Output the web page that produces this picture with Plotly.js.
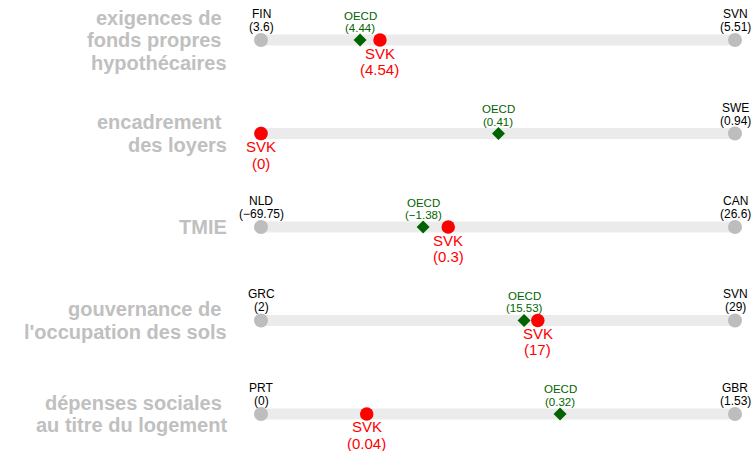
<!DOCTYPE html>
<html><head><meta charset="utf-8">
<script src="https://cdn.plot.ly/plotly-3.0.1.min.js"></script>
<style>body{margin:0;background:#fff}</style>
</head><body><div id="chart" style="width:754px;height:451px"></div>
<script>
// Indicators (rows, top to bottom)
const indicators = ["exigences de \nfonds propres \nhypothécaires", "encadrement \ndes loyers", "TMIE", "gouvernance de \nl'occupation des sols", "dépenses sociales \nau titre du logement"];
// Lowest country and value
const minCountry = ["FIN", "SVK", "NLD", "GRC", "PRT"];
const minValue = [3.6, 0, -69.75, 2, 0];
const minPos = [0, 0, 0, 0, 0];
// Highest country and value
const maxCountry = ["SVN", "SWE", "CAN", "SVN", "GBR"];
const maxValue = [5.51, 0.94, 26.6, 29, 1.53];
const maxPos = [1, 1, 1, 1, 1];
// OECD average
const oecdValue = [4.44, 0.41, -1.38, 15.53, 0.32];
const oecdPos = [0.209, 0.501, 0.342, 0.555, 0.631];
// Slovakia
const svkValue = [4.54, 0, 0.3, 17, 0.04];
const svkPos = [0.251, 0, 0.395, 0.584, 0.223];

const fmt = v => "(" + String(v).replace("-", "\u2212") + ")";
const rows = indicators.map((_, i) => i);

const trackX = [], trackY = [];
rows.forEach(i => { trackX.push(minPos[i], maxPos[i], null); trackY.push(i, i, null); });

const traces = [
  {x: trackX, y: trackY, mode: "lines", line: {color: "#ebebeb", width: 11}, hoverinfo: "skip"},
  {x: minPos.concat(maxPos), y: rows.concat(rows), mode: "markers", marker: {color: "#bdbdbd", size: 14}, hoverinfo: "skip"},
  {x: oecdPos, y: rows, mode: "markers", marker: {color: "#006400", size: 10, symbol: "diamond"}, hoverinfo: "skip"},
  {x: svkPos, y: rows, mode: "markers", marker: {color: "#ff0000", size: 13.5}, hoverinfo: "skip"}
];

const ann = [];
const add = (x, y, text, shift, color, size) => ann.push({x: x, y: y, text: text, showarrow: false, yshift: shift, yanchor: "middle", xanchor: "center", borderpad: 0, font: {family: "Liberation Sans, Arial", size: size, color: color}});
rows.forEach(i => {
  if (minCountry[i] !== "SVK") { add(minPos[i], i, minCountry[i], 26, "#000", 12); add(minPos[i], i, fmt(minValue[i]), 13, "#000", 12); }
  if (maxCountry[i] !== "SVK") { add(maxPos[i], i, maxCountry[i], 26, "#000", 12); add(maxPos[i], i, fmt(maxValue[i]), 13, "#000", 12); }
  add(oecdPos[i], i, "OECD", 24.5, "#006400", 11.5); add(oecdPos[i], i, fmt(oecdValue[i]), 12, "#006400", 11.5);
  add(svkPos[i], i, "SVK", -13, "#ff0000", 15); add(svkPos[i], i, fmt(svkValue[i]), -29.5, "#ff0000", 15);
  const lines = indicators[i].split("\n");
  lines.forEach((ln, k) => ann.push({xref: "paper", x: 0, y: i, xshift: -32, xanchor: "right", yanchor: "middle",
    yshift: ((lines.length - 1) / 2 - k) * 22.5, showarrow: false, text: ln.replace(/ $/, "\u00a0"),
    font: {family: "Liberation Sans, Arial", size: 20, color: "#c0c0c0", weight: "bold"}}));
});

const layout = {
  width: 754, height: 451, margin: {l: 261, r: 19, t: 0, b: 0},
  paper_bgcolor: "#fff", plot_bgcolor: "#fff", showlegend: false,
  xaxis: {range: [0, 1], visible: false, fixedrange: true},
  yaxis: {range: [4.396, -0.428], visible: false, fixedrange: true},
  annotations: ann
};
traces.forEach(t => t.cliponaxis = false);
Plotly.newPlot("chart", traces, layout, {displayModeBar: false, staticPlot: true});
</script></body></html>
